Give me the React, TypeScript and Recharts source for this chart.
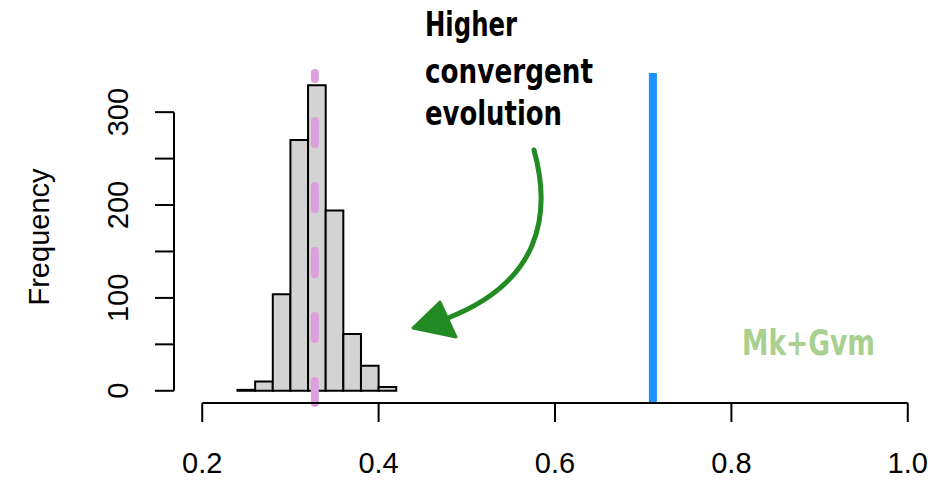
import React from "react";
import {
  ComposedChart,
  XAxis,
  YAxis,
  ReferenceArea,
  ReferenceLine,
} from "recharts";

// Histogram bins (left edge, right edge) and counts
const binStarts = [0.24, 0.26, 0.28, 0.3, 0.32, 0.34, 0.36, 0.38, 0.4];
const binWidth = 0.02;
const counts = [1, 10, 104, 270, 329, 194, 61, 27, 4];

const xTicks = [0.2, 0.4, 0.6, 0.8, 1.0];
const yTicks = [0, 50, 100, 150, 200, 250, 300];
const yLabelTicks = [0, 100, 200, 300];

const meanValue = 0.3277; // pink dashed line
const observedValue = 0.711; // blue line

const xDomain = [0.168, 1.032];
const yDomain = [-13.16, 342.16];

const bins = binStarts.map((s, i) => ({ x0: s, x1: s + binWidth, count: counts[i], x: s + binWidth / 2 }));

const FONT = "'Liberation Sans', Arial, Helvetica, sans-serif";

const XTick = (props: any) => {
  const { x, y, payload } = props;
  return (
    <text x={x} y={y + 49} textAnchor="middle" fontFamily={FONT} fontSize={29} fill="#000">
      {payload.value === 1 ? "1.0" : payload.value.toFixed(1)}
    </text>
  );
};

const YTick = (props: any) => {
  const { y, payload } = props;
  if (!yLabelTicks.includes(payload.value)) return <g />;
  const bx = 128;
  return (
    <text
      x={bx}
      y={y}
      transform={`rotate(-90 ${bx} ${y})`}
      textAnchor="middle"
      fontFamily={FONT}
      fontSize={29}
      fill="#000"
    >
      {payload.value}
    </text>
  );
};

export default function App() {
  return (
    <div style={{ position: "absolute", left: 0, top: 0, width: 942, height: 480, background: "#fff" }}>
      <ComposedChart
        width={942}
        height={480}
        data={bins}
        margin={{ top: 73, right: 6, bottom: 0, left: 0 }}
      >
        <XAxis
          type="number"
          dataKey="x"
          domain={xDomain}
          allowDataOverflow
          ticks={xTicks}
          height={77}
          axisLine={false}
          tickLine={{ stroke: "#000", strokeWidth: 2 }}
          tickSize={19}
          tick={<XTick />}
          interval={0}
        />
        <YAxis
          type="number"
          domain={yDomain}
          allowDataOverflow
          ticks={yTicks}
          width={174}
          axisLine={false}
          tickLine={{ stroke: "#000", strokeWidth: 2 }}
          tickSize={19}
          tick={<YTick />}
          interval={0}
        />
        {bins.map((b, i) => (
          <ReferenceArea
            key={i}
            x1={b.x0}
            x2={b.x1}
            y1={0}
            y2={b.count}
            fill="#d3d3d3"
            fillOpacity={1}
            stroke="#000"
            strokeWidth={2}
            strokeOpacity={1}
          />
        ))}
        <ReferenceLine
          segment={[
            { x: meanValue, y: yDomain[1] },
            { x: meanValue, y: yDomain[0] },
          ]}
          stroke="#dda0dd"
          strokeWidth={8}
          strokeDasharray="23 42"
          strokeDashoffset={17}
          strokeLinecap="round"
        />
        <ReferenceLine x={observedValue} stroke="#1e90ff" strokeWidth={8} />
        <ReferenceLine
          segment={[
            { x: xTicks[0], y: yDomain[0] },
            { x: xTicks[xTicks.length - 1], y: yDomain[0] },
          ]}
          stroke="#000"
          strokeWidth={2}
        />
        <ReferenceLine
          segment={[
            { x: xDomain[0], y: yTicks[0] },
            { x: xDomain[0], y: yTicks[yTicks.length - 1] },
          ]}
          stroke="#000"
          strokeWidth={2}
        />
      </ComposedChart>
      <svg
        width={942}
        height={480}
        style={{ position: "absolute", left: 0, top: 0, pointerEvents: "none" }}
      >
        <text
          x={49}
          y={237}
          transform="rotate(-90 49 237)"
          textAnchor="middle"
          fontFamily={FONT}
          fontSize={29}
          fill="#000"
        >
          Frequency
        </text>
        <g fontFamily="'DejaVu Sans Condensed', 'DejaVu Sans', sans-serif" fontWeight="bold" fontSize={33} fill="#000">
          <text x={425} y={36} textLength={92} lengthAdjust="spacingAndGlyphs">Higher</text>
          <text x={425} y={83} textLength={168} lengthAdjust="spacingAndGlyphs">convergent</text>
          <text x={425} y={125} textLength={137} lengthAdjust="spacingAndGlyphs">evolution</text>
        </g>
        <text
          x={742}
          y={355}
          fontFamily="'DejaVu Sans Condensed', 'DejaVu Sans', sans-serif"
          fontWeight="bold"
          fontSize={36}
          fill="#a9d08e"
          textLength={133}
          lengthAdjust="spacingAndGlyphs"
        >
          Mk+Gvm
        </text>
        <path
          d="M 534 150 C 552 215, 540 282, 448 318"
          fill="none"
          stroke="#238b23"
          strokeWidth={5}
          strokeLinecap="round"
        />
        <polygon points="413,328 440,302 456,337" fill="#238b23" stroke="#238b23" strokeWidth={3} strokeLinejoin="round" />
      </svg>
    </div>
  );
}
